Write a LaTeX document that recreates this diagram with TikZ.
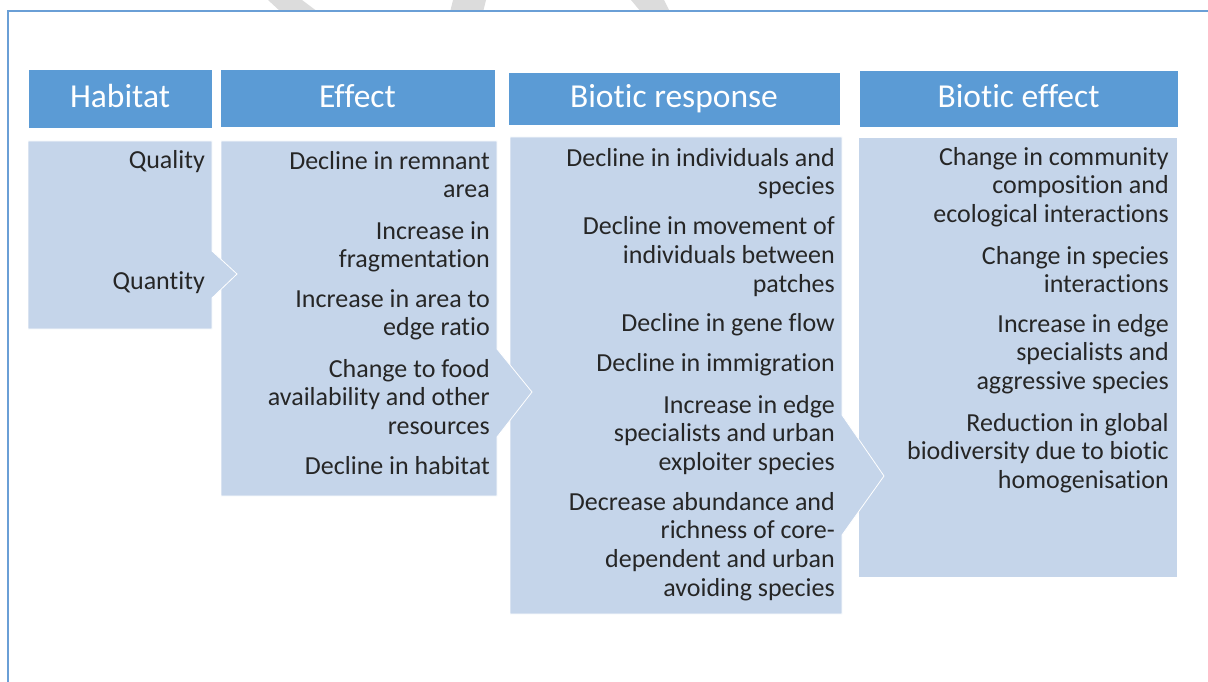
\documentclass[tikz,border=0pt]{standalone}
\usepackage{fontspec}
\setmainfont{Carlito}[Ligatures=NoCommon]
\definecolor{headblue}{HTML}{5B9BD5}
\definecolor{bodyblue}{HTML}{C5D5EA}
\definecolor{frameblue}{HTML}{6A9FD6}
\definecolor{itemtext}{HTML}{262626}
\definecolor{wmgray}{HTML}{DCDCDC}
\begin{document}
\begin{tikzpicture}[x=1pt,y=-1pt,
    head/.style={fill=headblue,draw=white,line width=0.6pt,text=white,inner sep=0pt,
      text height=24pt,text depth=5pt,font=\fontsize{33.5}{36}\selectfont},
    body/.style={fill=bodyblue,draw=white,line width=0.8pt},
    item/.style={anchor=base east,align=right,inner sep=0pt,text=itemtext,
      font=\fontsize{26}{28.8}\selectfont}]
  \useasboundingbox (0,0) rectangle (1208,682);
  % faint marks above the frame
  \fill[wmgray] (268,0) -- (302,0) -- (318,12) -- (281,12) -- cycle;
  \fill[wmgray] (453,0) -- (486,0) -- (483,12) -- (450,12) -- cycle;
  \fill[wmgray] (631,0) -- (664,0) -- (670,12) -- (641,12) -- cycle;
  % frame
  \draw[frameblue,line width=1.3pt] (8,682) -- (8,11) -- (1208,11);
  % column heads
  \node[head,minimum width=184,minimum height=59] (hhab) at (120,98.5) {Habitat};
  \node[head,minimum width=275,minimum height=58] (heff) at (357.5,98) {Effect};
  \node[head,minimum width=332,minimum height=53] (hres) at (674,98.5) {Biotic response};
  \node[head,minimum width=319,minimum height=57] (hbef) at (1018.5,98.5) {Biotic effect};
  % column bodies, right to left so each point lies on top
  \draw[body] (858,137) rectangle (1177,577);
  \draw[body] (510,137) -- (842,137) -- (842,415) -- (884,476) -- (842,535)
    -- (842,614) -- (510,614) -- cycle;
  \draw[body] (221,141) -- (497,141) -- (497,349) -- (532,392) -- (497,437)
    -- (497,496) -- (221,496) -- cycle;
  \draw[body] (28,141) -- (212,141) -- (212,251) -- (237,274) -- (212,298)
    -- (212,329) -- (28,329) -- cycle;
  % items sit on the baseline of their last line
  % habitat
  \node[item] (hab1) at (205,169) {Quality};
  \node[item] (hab2) at (205,289) {Quantity};
  % effect
  \node[item] (eff1) at (490,197.8) {Decline in remnant\\area};
  \node[item] (eff2) at (490,267.8) {Increase in\\fragmentation};
  \node[item] (eff3) at (490,335.8) {Increase in area to\\edge ratio};
  \node[item] (eff4) at (490,434.6) {Change to food\\availability and other\\resources};
  \node[item] (eff5) at (490,474) {Decline in habitat};
  % biotic response
  \node[item] (res1) at (835,194.8) {Decline in individuals and\\species};
  \node[item] (res2) at (835,292.1) {Decline in movement of\\individuals between\\patches};
  \node[item] (res3) at (835,331) {Decline in gene flow};
  \node[item] (res4) at (835,371) {Decline in immigration};
  \node[item] (res5) at (835,470.6) {Increase in edge\\specialists and urban\\exploiter species};
  \node[item] (res6) at (835,596.4) {Decrease abundance and\\richness of core-\\dependent and urban\\avoiding species};
  % biotic effect
  \node[item] (bef1) at (1169,222.6) {Change in community\\composition and\\ecological interactions};
  \node[item] (bef2) at (1169,292.8) {Change in species\\interactions};
  \node[item] (bef3) at (1169,389.6) {Increase in edge\\specialists and\\aggressive species};
  \node[item] (bef4) at (1169,488.6) {Reduction in global\\biodiversity due to biotic\\homogenisation};
\end{tikzpicture}
\end{document}
